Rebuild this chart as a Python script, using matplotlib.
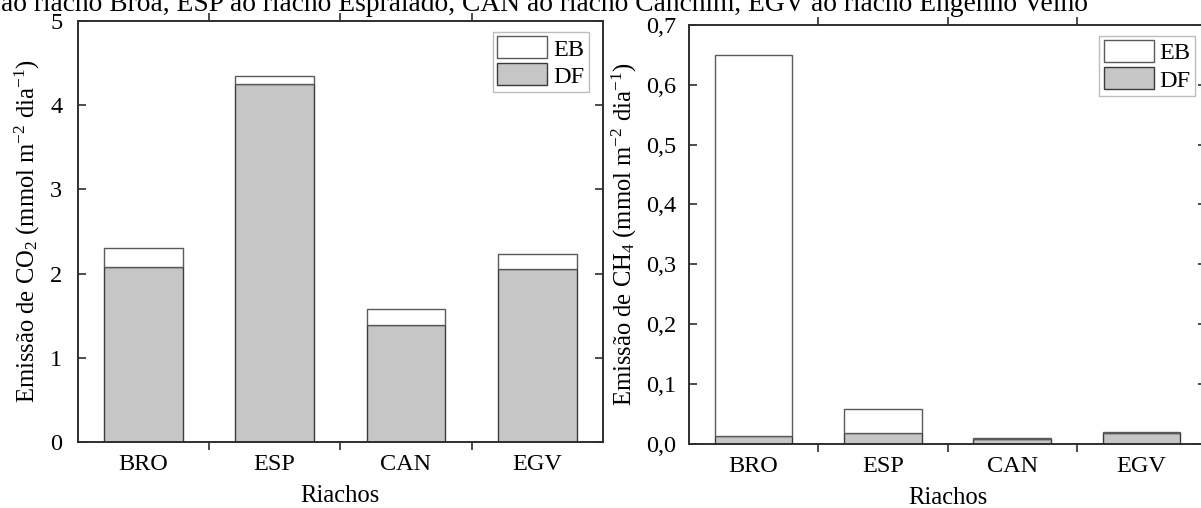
import matplotlib
matplotlib.use("Agg")
import matplotlib.pyplot as plt
import numpy as np

# Streams and fluxes (mmol m-2 dia-1): DF = diffusive, EB = ebullitive
riachos = ["BRO", "ESP", "CAN", "EGV"]
co2_df = [2.08, 4.25, 1.39, 2.06]
co2_eb = [0.22, 0.10, 0.19, 0.17]
ch4_df = [0.013, 0.017, 0.008, 0.018]
ch4_eb = [0.637, 0.041, 0.002, 0.001]

co2_ticks = [0, 1, 2, 3, 4, 5]
co2_ticklabels = ["0", "1", "2", "3", "4", "5"]
ch4_ticks = [0.0, 0.1, 0.2, 0.3, 0.4, 0.5, 0.6, 0.7]
ch4_ticklabels = ["0,0", "0,1", "0,2", "0,3", "0,4", "0,5", "0,6", "0,7"]

caption = ("ao riacho Broa, ESP ao riacho Espraiado, CAN ao riacho Canchim, "
           "EGV ao riacho Engenho Velho")

plt.rcParams["font.family"] = ["Liberation Serif", "DejaVu Serif"]
plt.rcParams["mathtext.fontset"] = "custom"
plt.rcParams["mathtext.rm"] = "Liberation Serif"
plt.rcParams["mathtext.it"] = "Liberation Serif:italic"
plt.rcParams["mathtext.bf"] = "Liberation Serif:bold"

W, H = 1201, 508
fig = plt.figure(figsize=(W / 100, H / 100), dpi=100)

DF_FACE = "#c6c6c6"
DF_EDGE = "#3a3a3a"
EB_EDGE = "#5a5a5a"
SPINE = "#2e2e2e"
TICK_FS = 17.5
LABEL_FS = 17.7


def panel(rect, df, eb, ticks, ticklabels, ylim, ylabel, leg_anchor,
          ytick_pad, ylabel_pad):
    ax = fig.add_axes(rect)
    x = np.arange(len(riachos))
    ax.bar(x, df, width=0.6, color=DF_FACE, edgecolor=DF_EDGE,
           linewidth=1.0, label="DF", zorder=2)
    ax.bar(x, eb, width=0.6, bottom=df, color="white", edgecolor=EB_EDGE,
           linewidth=1.0, label="EB", zorder=2)
    ax.set_xlim(-0.5, len(riachos) - 0.5)
    ax.set_ylim(*ylim)
    ax.set_xticks(x)
    ax.set_xticklabels(riachos, fontsize=TICK_FS)
    ax.tick_params(axis="x", which="major", length=0, pad=9)
    ax.set_xticks(np.arange(0.5, len(riachos) - 0.5, 1.0), minor=True)
    ax.tick_params(axis="x", which="minor", direction="out", length=6,
                   width=1.2, color=SPINE, top=True)
    ax.set_yticks(ticks)
    ax.set_yticklabels(ticklabels, fontsize=TICK_FS)
    ax.tick_params(axis="y", direction="in", length=6, width=1.2,
                   color=SPINE, right=True, pad=ytick_pad)
    for s in ax.spines.values():
        s.set_color(SPINE)
        s.set_linewidth(1.4)
    ax.set_xlabel("Riachos", fontsize=LABEL_FS, labelpad=7)
    ax.set_ylabel(ylabel, fontsize=LABEL_FS, labelpad=ylabel_pad)
    handles, labels = ax.get_legend_handles_labels()
    leg = ax.legend(handles[::-1], labels[::-1], loc="upper right",
                    bbox_to_anchor=leg_anchor, borderaxespad=0,
                    fontsize=TICK_FS, handlelength=2.05, handleheight=1.0,
                    labelspacing=0.12, handletextpad=0.25, borderpad=0.18,
                    fancybox=False, framealpha=1)
    leg.get_frame().set_edgecolor("#bdbdbd")
    leg.get_frame().set_linewidth(1.0)
    return ax


panel([77.7 / W, 66 / H, 525.3 / W, 421 / H], co2_df, co2_eb,
      co2_ticks, co2_ticklabels, (0, 5),
      "Emissão de CO$_2$ (mmol m$^{-2}$ dia$^{-1}$)", (0.973, 0.974),
      ytick_pad=11, ylabel_pad=6)
panel([689 / W, 64.5 / H, 517 / W, 418.5 / H], ch4_df, ch4_eb,
      ch4_ticks, ch4_ticklabels, (0, 0.7),
      "Emissão de CH$_4$ (mmol m$^{-2}$ dia$^{-1}$)", (0.979, 0.974),
      ytick_pad=9, ylabel_pad=5)

fig.text(1 / W, 1 - 11 / H, caption, fontsize=19.8, va="baseline", ha="left")

fig.savefig("out.png", dpi=100)
